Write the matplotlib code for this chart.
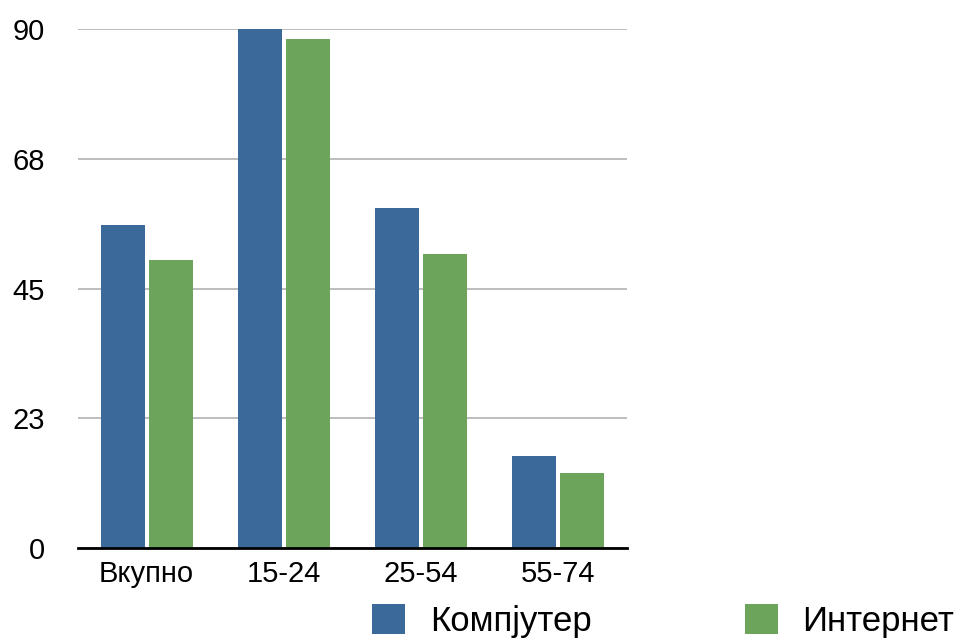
import matplotlib
matplotlib.use('Agg')
import matplotlib.pyplot as plt
import numpy as np

plt.rcParams['font.family'] = ['Liberation Sans', 'DejaVu Sans']

# data
categories = ['Вкупно', '15-24', '25-54', '55-74']
computer = [56, 90, 59, 16]
internet = [50, 88.3, 51, 13]
series_names = ['Компјутер', 'Интернет']
y_ticks = [0, 22.5, 45, 67.5, 90]
y_tick_labels = ['0', '23', '45', '68', '90']

BLUE = '#3b6a9a'
GREEN = '#6ba45a'

fig = plt.figure(figsize=(9.61, 6.38), dpi=100)
ax = fig.add_axes([78 / 961, 90 / 638, 549 / 961, 519 / 638])

x = np.arange(len(categories))
w = 0.322
off = 0.175
b1 = ax.bar(x - off, computer, w, color=BLUE, zorder=3, label=series_names[0])
b2 = ax.bar(x + off, internet, w, color=GREEN, zorder=3, label=series_names[1])

ax.set_xlim(-0.5, len(categories) - 0.5)
ax.set_ylim(0, 90)
ax.set_yticks(y_ticks)
ax.set_yticklabels(y_tick_labels)
ax.set_xticks(x)
ax.set_xticklabels(categories)
ax.tick_params(axis='both', length=0, labelsize=21)
ax.tick_params(axis='y', pad=24)
ax.tick_params(axis='x', pad=9)

ax.yaxis.grid(True, color='#b8b8b8', linewidth=1.3, zorder=0)
ax.set_axisbelow(True)
for s in ['left', 'right', 'top']:
    ax.spines[s].set_visible(False)
ax.spines['bottom'].set_color('black')
ax.spines['bottom'].set_linewidth(2)
ax.spines['bottom'].set_zorder(4)

fig.legend(handles=[b1, b2], labels=series_names, loc='center left',
           bbox_to_anchor=(372 / 961, 1 - 621 / 638), ncol=2, frameon=False,
           fontsize=25, handlelength=0.95, handleheight=0.95,
           handletextpad=0.72, columnspacing=4.4, borderpad=0, borderaxespad=0)

plt.savefig('out.png', dpi=100)
